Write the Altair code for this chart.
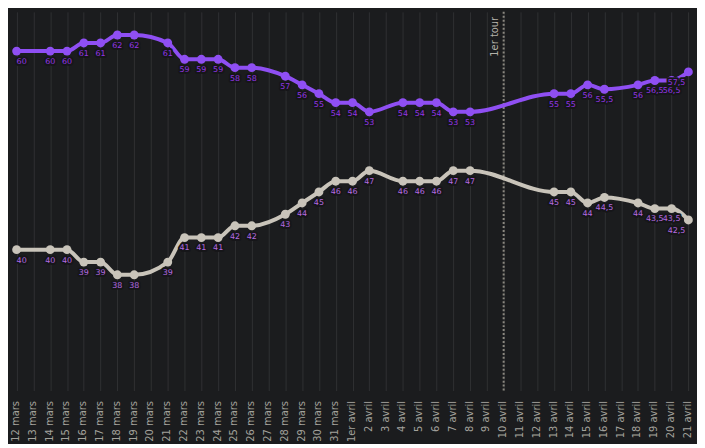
import altair as alt
import pandas as pd

dates = [f"{d} mars" for d in range(12, 32)] + ["1er avril"] + [f"{d} avril" for d in range(2, 22)]

purple = [60, None, 60, 60, 61, 61, 62, 62, None, 61, 59, 59, 59, 58, 58, None, 57, 56, 55, 54,
          54, 53, None, 54, 54, 54, 53, 53, None, None, None, None, 55, 55, 56, 55.5, None, 56, 56.5, 56.5, 57.5]
grey = [40, None, 40, 40, 39, 39, 38, 38, None, 39, 41, 41, 41, 42, 42, None, 43, 44, 45, 46,
        46, 47, None, 46, 46, 46, 47, 47, None, None, None, None, 45, 45, 44, 44.5, None, 44, 43.5, 43.5, 42.5]

event_date = ["10 avril"]
event_label = ["1er tour"]


def fmt(v):
    s = f"{v:g}"
    return s.replace(".", ",")


rows = []
for i, d in enumerate(dates):
    for series, vals in (("purple", purple), ("grey", grey)):
        v = vals[i]
        if v is None:
            continue
        pos = "first" if i == 0 else ("last" if i == len(dates) - 1 else "mid")
        rows.append({"date": d, "series": series, "value": v, "label": fmt(v), "pos": pos})
df = pd.DataFrame(rows)

x_scale = alt.Scale(type="point", domain=dates, padding=0.454)
x_enc = alt.X(
    "date:O",
    scale=x_scale,
    axis=alt.Axis(
        title=None, labelAngle=270, labelPadding=10, labelOffset=-1, ticks=False, domain=False,
        grid=True, gridColor="#303133", gridWidth=1, labelOverlap=False,
        labelFont="DejaVu Sans", labelFontSize=10, labelColor="#a3a29c",
    ),
)
y_enc = alt.Y("value:Q", scale=alt.Scale(type="log", domain=[30, 65], nice=False), axis=None)
color_enc = alt.Color(
    "series:N",
    scale=alt.Scale(domain=["purple", "grey"], range=["#8f4ff3", "#c9c4ba"]),
    legend=None,
)
label_color = alt.Color(
    "series:N",
    scale=alt.Scale(domain=["purple", "grey"], range=["#9335e6", "#b56be0"]),
    legend=None,
)

base = alt.Chart(df)

rule = alt.Chart(pd.DataFrame({"date": event_date})).mark_rule(
    strokeDash=[2, 2], color="#8a877f", strokeWidth=2
).encode(x=alt.X("date:O", scale=x_scale))

event_text = alt.Chart(pd.DataFrame({"date": event_date, "label": event_label})).mark_text(
    angle=270, align="right", baseline="middle", dy=-9,
    font="DejaVu Sans", fontSize=10, color="#b3b1a9",
).encode(x=alt.X("date:O", scale=x_scale), y=alt.value(5), text="label:N")

lines = base.mark_line(interpolate="monotone", strokeWidth=4).encode(
    x=x_enc, y=y_enc, color=color_enc, detail="series:N"
)
points = base.mark_circle(size=80, opacity=1).encode(x=x_enc, y=y_enc, color=color_enc)

text_kw = dict(baseline="middle", dy=11, font="DejaVu Sans", fontSize=8)
halo_kw = dict(stroke="#161619", strokeWidth=4, strokeJoin="round", fill="#161619")


def label_layers(pos, align, dx):
    sub = base.transform_filter(alt.datum.pos == pos)
    halo = sub.mark_text(align=align, dx=dx, **text_kw, **halo_kw).encode(
        x=x_enc, y=y_enc, text="label:N"
    )
    fill = sub.mark_text(align=align, dx=dx, **text_kw).encode(
        x=x_enc, y=y_enc, text="label:N", color=label_color
    )
    return [halo, fill]


layers = [rule, event_text, lines, points]
layers += label_layers("mid", "center", 0)
layers += label_layers("first", "left", 0)
layers += label_layers("last", "right", -3)

chart = alt.layer(*layers).resolve_scale(color="independent").properties(
    width=693, height=382,
    padding={"left": 0, "top": 1, "right": 0, "bottom": 0},
    background="#1b1c1e",
).configure_view(stroke=None)

chart.save("out.html", embed_options={"renderer": "svg", "actions": False})
